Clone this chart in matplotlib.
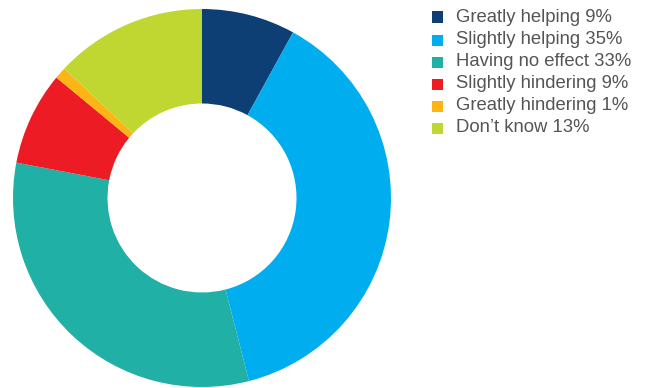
import matplotlib
matplotlib.use("Agg")
import matplotlib.pyplot as plt
from matplotlib.patches import Rectangle

# shares as drawn in the ring
categories = ["Greatly helping", "Slightly helping", "Having no effect",
              "Slightly hindering", "Greatly hindering", "Don\u2019t know"]
shares = [8, 38, 32, 8, 1, 13]
labels_pct = [9, 35, 33, 9, 1, 13]
colors = ["#0d3e74", "#00aeef", "#20b0a6", "#ed1c24", "#fdb515", "#bfd730"]

W, H = 650, 388
fig = plt.figure(figsize=(W / 100, H / 100), dpi=100)

# ring: centre ~(202,198) px, outer radius ~189 px
ax = fig.add_axes([13 / W, 1 - 387 / H, 378 / W, 378 / H])
ax.pie(shares, colors=colors, startangle=90, counterclock=False, radius=1,
       wedgeprops=dict(width=0.5, linewidth=0))
ax.set_xlim(-1, 1)
ax.set_ylim(-1, 1)
ax.set_aspect("equal")
ax.axis("off")

# legend, drawn by hand so rows sit where the reference has them
row_y = [17, 40, 62, 84, 106, 128]
sq = 11
for name, pct, c, y in zip(categories, labels_pct, colors, row_y):
    fig.patches.append(Rectangle((432 / W, 1 - (y + sq / 2) / H), sq / W, sq / H,
                                 transform=fig.transFigure, color=c, lw=0))
    fig.text(456 / W, 1 - y / H, f"{name} {pct}%", fontsize=13.3,
             family="Liberation Sans", color="#555555", va="center", ha="left")

fig.savefig("out.png", dpi=100)
